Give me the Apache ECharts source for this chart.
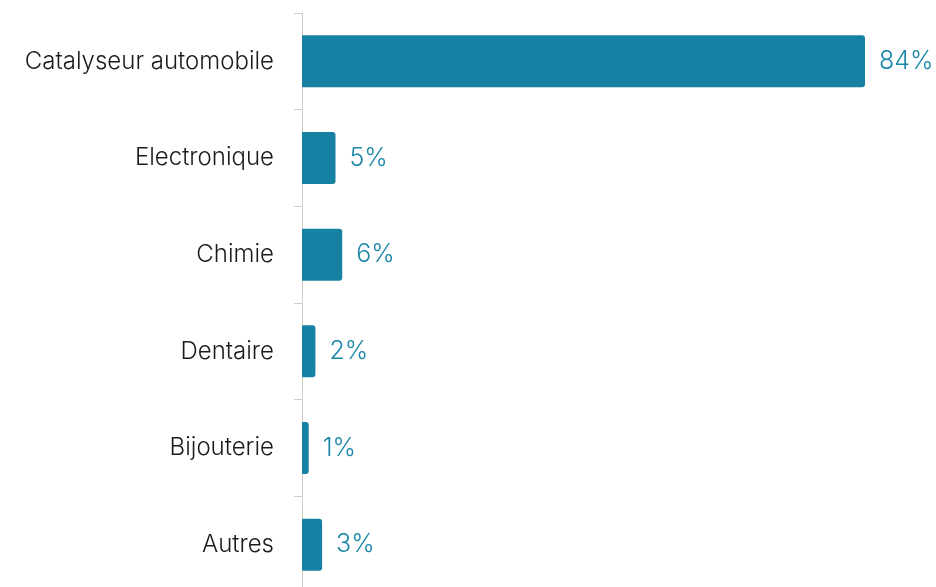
<!DOCTYPE html>
<html>
<head>
<meta charset="utf-8">
<style>
  html, body { margin: 0; padding: 0; background: #ffffff; }
  #chart { width: 936px; height: 587px; }
</style>
<script src="https://cdn.jsdelivr.net/npm/echarts@6/dist/echarts.min.js"></script>
</head>
<body>
<div id="chart"></div>
<script>
// Usages of the metal, share in percent
const categories = ['Catalyseur automobile', 'Electronique', 'Chimie', 'Dentaire', 'Bijouterie', 'Autres'];
const shares = [84, 5, 6, 2, 1, 3];

const TEAL = '#1681a3';
const FONT = 'Inter';

const chart = echarts.init(document.getElementById('chart'), null, { renderer: 'canvas' });

chart.setOption({
  animation: false,
  backgroundColor: '#ffffff',
  grid: {
    left: 302, right: 71, top: 13, height: 580,
    containLabel: false,
    outerBoundsMode: 'none'
  },
  xAxis: {
    type: 'value',
    min: 0,
    max: 84,
    show: false
  },
  yAxis: {
    type: 'category',
    data: categories,
    inverse: true,
    axisLine: { show: true, lineStyle: { color: '#d3cfc7', width: 1 } },
    axisTick: { show: true, length: 8, lineStyle: { color: '#d3cfc7' } },
    axisLabel: {
      margin: 28,
      color: '#1a1a1a',
      fontFamily: FONT,
      fontWeight: 300,
      fontSize: 24
    },
    splitLine: { show: false }
  },
  series: [{
    type: 'bar',
    data: shares,
    barWidth: 52,
    itemStyle: { color: TEAL, borderRadius: [0, 3, 3, 0] },
    label: {
      show: true,
      position: 'right',
      distance: 14,
      formatter: '{c}%',
      color: '#1a86a8',
      fontFamily: FONT,
      fontWeight: 300,
      fontSize: 25
    }
  }]
});
</script>
</body>
</html>
